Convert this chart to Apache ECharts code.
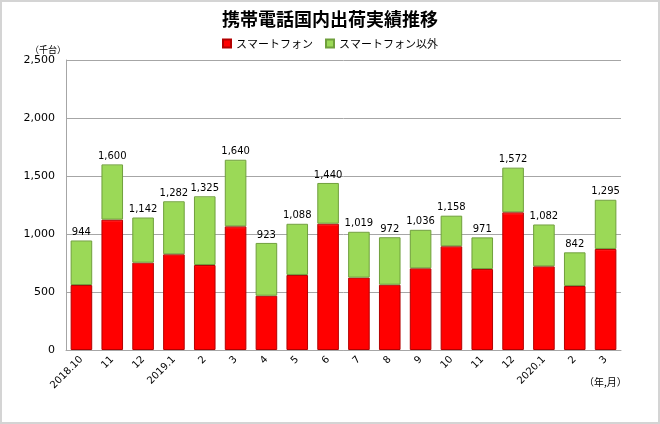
<!DOCTYPE html>
<html>
<head>
    <meta charset="utf-8">
    <title>携帯電話国内出荷実績推移</title>
    <script src="https://cdn.jsdelivr.net/npm/echarts@6/dist/echarts.min.js"></script>
    <style>
        html, body { margin: 0; padding: 0; background: #fff; }
        #chart { width: 660px; height: 424px; }
    </style>
</head>
<body>
<div id="chart"></div>
<script>
    // 月（年,月）
    var months = ['2018.10', '11', '12', '2019.1', '2', '3', '4', '5', '6', '7', '8', '9', '10', '11', '12', '2020.1', '2', '3'];
    // スマートフォン（千台）
    var smartphone = [560, 1124, 753, 825, 733, 1066, 468, 647, 1089, 624, 563, 704, 894, 698, 1187, 721, 552, 871];
    // スマートフォン以外（千台）
    var others = [384, 476, 389, 457, 592, 574, 455, 441, 351, 395, 409, 332, 264, 273, 385, 361, 290, 424];

    var fontFamily = '"DejaVu Sans", "Noto Sans CJK JP", sans-serif';
    var jpFont = '"Noto Sans CJK JP", sans-serif';

    function fmt(v) {
        return v.toString().replace(/\B(?=(\d{3})+(?!\d))/g, ',');
    }

    var chart = echarts.init(document.getElementById('chart'), null, { renderer: 'canvas' });
    var option = {
        backgroundColor: '#ffffff',
        animation: false,
        title: {
            text: '携帯電話国内出荷実績推移',
            left: 'center',
            top: 5,
            textStyle: {
                fontFamily: jpFont,
                fontSize: 18,
                fontWeight: 'bold',
                color: '#000'
            }
        },
        legend: {
            data: ['スマートフォン', 'スマートフォン以外'],
            icon: 'rect',
            top: 33,
            left: 'center',
            itemWidth: 8,
            itemHeight: 8,
            itemGap: 12,
            textStyle: {
                fontFamily: jpFont,
                fontSize: 11,
                color: '#000'
            }
        },
        grid: {
            left: 66,
            right: 39,
            top: 60,
            bottom: 74,
            containLabel: false
        },
        xAxis: {
            type: 'category',
            data: months,
            axisLine: { lineStyle: { color: '#a6a6a6', width: 1 } },
            axisTick: { show: false },
            axisLabel: {
                rotate: 45,
                interval: 0,
                margin: 8,
                fontFamily: fontFamily,
                fontSize: 10,
                color: '#000'
            }
        },
        yAxis: {
            type: 'value',
            min: 0,
            max: 2500,
            interval: 500,
            name: '（千台）',
            nameLocation: 'end',
            nameGap: 6,
            nameTextStyle: {
                fontFamily: jpFont,
                fontSize: 9,
                color: '#000',
                align: 'right'
            },
            axisLine: { show: true, lineStyle: { color: '#a6a6a6', width: 1 } },
            axisTick: { show: false },
            splitLine: { lineStyle: { color: '#a6a6a6', width: 1 } },
            axisLabel: {
                margin: 11,
                fontFamily: fontFamily,
                fontSize: 11,
                color: '#000',
                formatter: function (v) { return fmt(v); }
            }
        },
        graphic: [
            {
                type: 'rect',
                position: [0, 0],
                shape: { x: 1, y: 1, width: 658, height: 422 },
                style: { fill: 'none', stroke: '#d4d4d4', lineWidth: 2 },
                silent: true,
                z: 100
            },
            {
                type: 'text',
                left: 584,
                top: 377,
                style: {
                    text: '（年,月）',
                    font: '10px "Noto Sans CJK JP", sans-serif',
                    fill: '#000'
                }
            }
        ],
        series: [
            {
                name: 'スマートフォン',
                type: 'bar',
                stack: 'total',
                barWidth: '70%',
                data: smartphone,
                itemStyle: {
                    color: {
                        type: 'linear', x: 0, y: 0, x2: 0, y2: 1,
                        colorStops: [
                            { offset: 0, color: '#ff5050' },
                            { offset: 0.02, color: '#ff0000' },
                            { offset: 1, color: '#ff0000' }
                        ]
                    },
                    borderColor: '#b30000',
                    borderWidth: 1
                }
            },
            {
                name: 'スマートフォン以外',
                type: 'bar',
                stack: 'total',
                barWidth: '70%',
                data: others,
                itemStyle: {
                    color: {
                        type: 'linear', x: 0, y: 0, x2: 0, y2: 1,
                        colorStops: [
                            { offset: 0, color: '#c9f08e' },
                            { offset: 0.03, color: '#9bd957' },
                            { offset: 1, color: '#9bd957' }
                        ]
                    },
                    borderColor: '#6f9f3c',
                    borderWidth: 1
                },
                label: {
                    show: true,
                    position: 'top',
                    distance: 3,
                    fontFamily: fontFamily,
                    fontSize: 10,
                    color: '#000',
                    formatter: function (p) {
                        return fmt(smartphone[p.dataIndex] + others[p.dataIndex]);
                    }
                }
            }
        ]
    };
    chart.setOption(option);

    window.onresize = function () {
        chart.resize();
    };
</script>
</body>
</html>
